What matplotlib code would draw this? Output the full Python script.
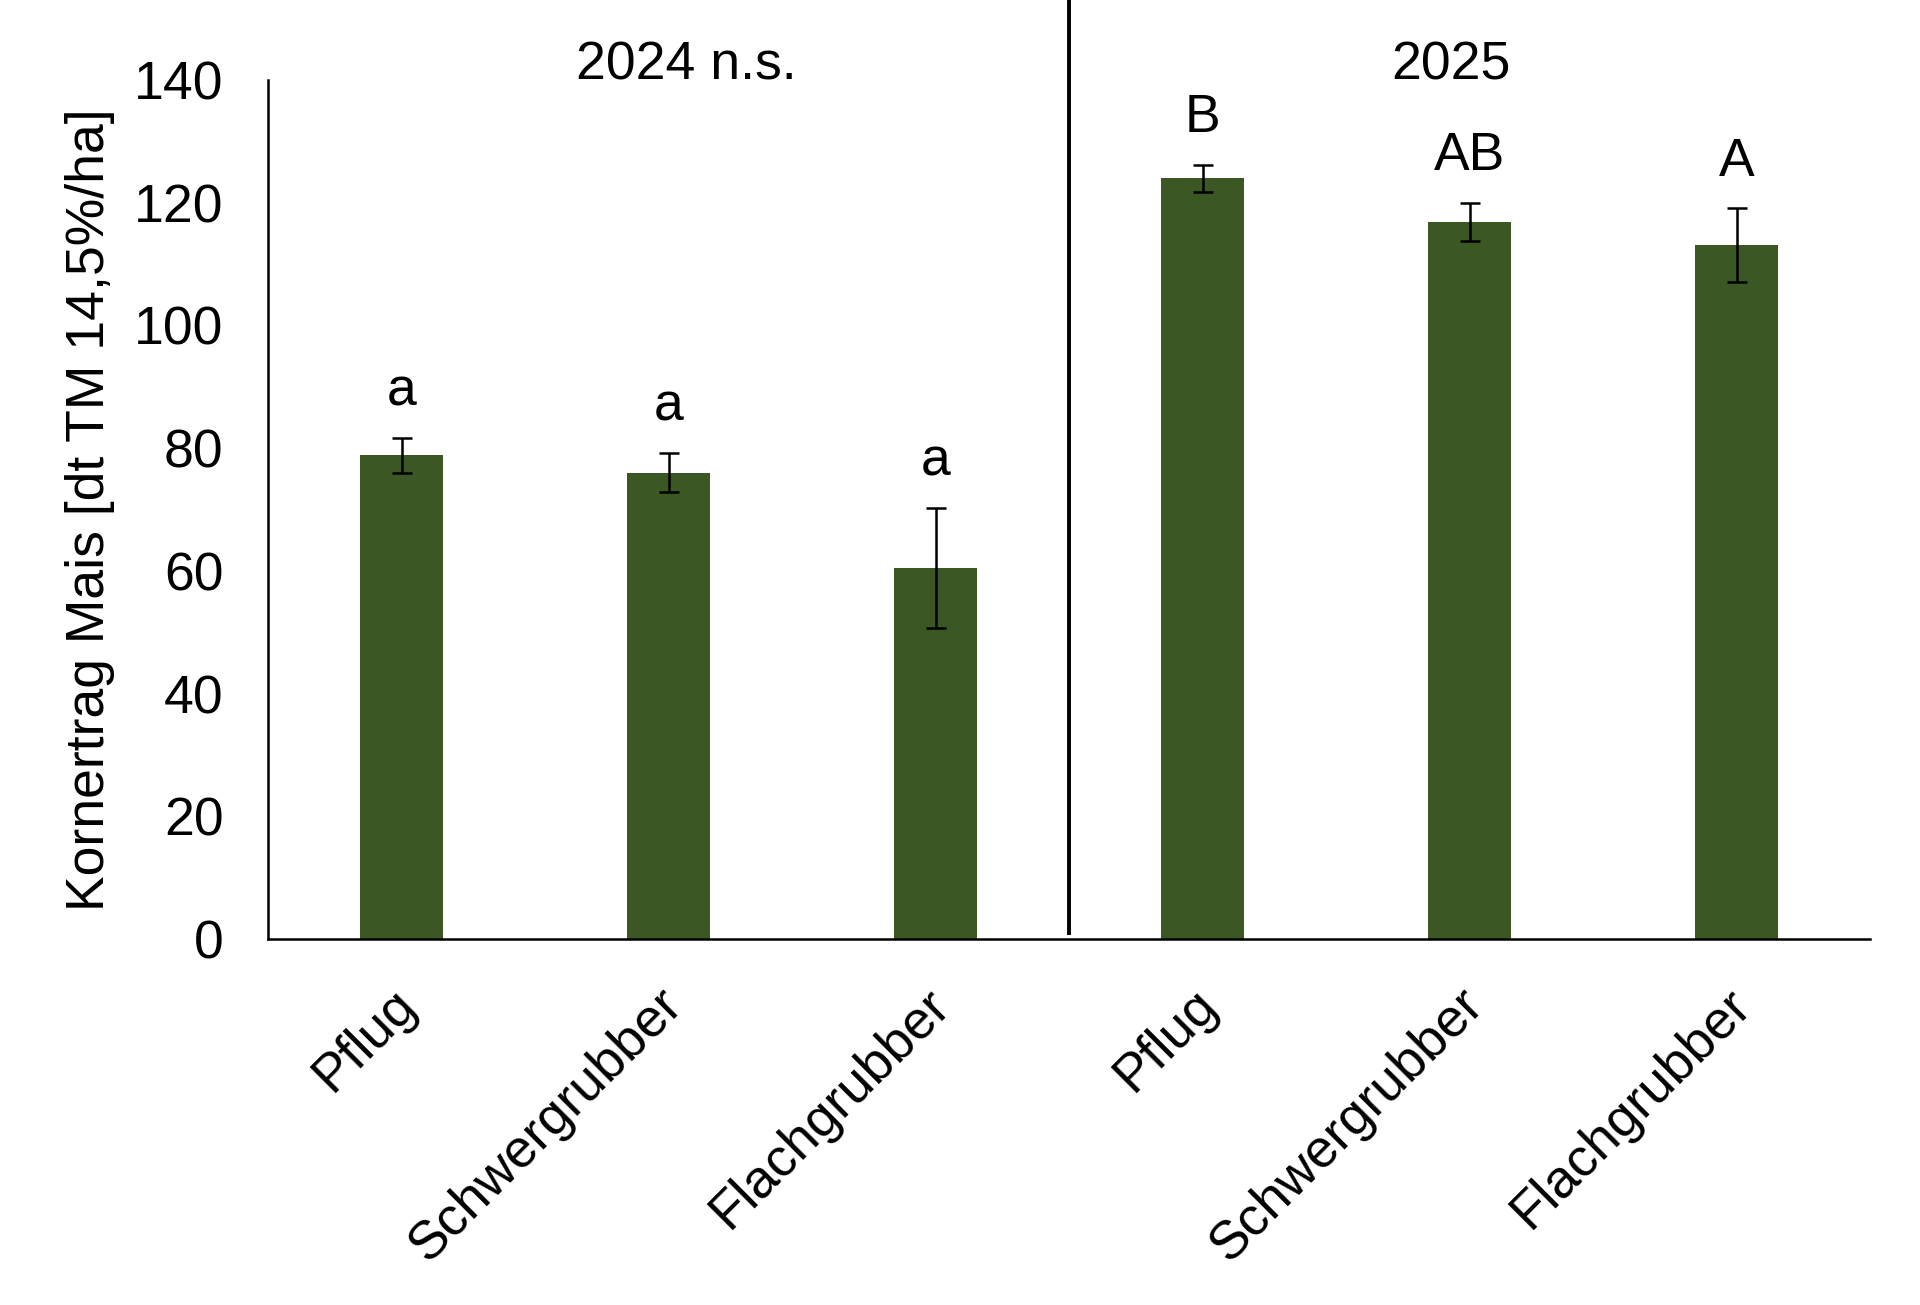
import numpy as np
import matplotlib.pyplot as plt
import matplotlib.transforms as mtransforms

plt.rcParams['font.family'] = ['Liberation Sans', 'DejaVu Sans']

categories = ['Pflug', 'Schwergrubber', 'Flachgrubber', 'Pflug', 'Schwergrubber', 'Flachgrubber']
ertrag = [78.8, 76.0, 60.4, 124.0, 116.9, 113.1]
fehler = [2.8, 3.2, 9.8, 2.2, 3.1, 6.0]
buchstaben = ['a', 'a', 'a', 'B', 'AB', 'A']
jahre = ['2024 n.s.', '2025']

fs = 38.5

fig = plt.figure(figsize=(19.2, 13.05), dpi=100)
ax = fig.add_axes([0.1396, 0.2805, 0.8344, 0.6582])

x = np.arange(len(categories)) + 0.5
ax.bar(x, ertrag, width=0.31, color='#3B5724', zorder=2)
ax.errorbar(x, ertrag, yerr=fehler, fmt='none', ecolor='black',
            elinewidth=1.8, capsize=7, capthick=1.8, zorder=3)

for xi, v, e, b in zip(x, ertrag, fehler, buchstaben):
    ax.text(xi, v + e + 7.6, b, ha='center', va='center', fontsize=fs)

# Trennlinie zwischen den Jahren
ax.plot([3, 3], [1, 153], color='black', lw=2.8, clip_on=False)
ax.text(1.565, 142.3, jahre[0], ha='center', va='center', fontsize=fs)
ax.text(4.43, 142.3, jahre[1], ha='center', va='center', fontsize=fs)

ax.set_xlim(0, 6)
ax.set_ylim(0, 140)
ax.set_yticks(np.arange(0, 141, 20))
ax.tick_params(axis='y', labelsize=fs, length=0, pad=32)
ax.set_xticks(x)
ax.set_xticklabels(categories, fontsize=fs, rotation=45, ha='right',
                   va='top', rotation_mode='anchor')
ax.tick_params(axis='x', length=0, pad=29)
offset = mtransforms.ScaledTranslation(-8 / 72, 0, fig.dpi_scale_trans)
for lab in ax.get_xticklabels():
    lab.set_transform(lab.get_transform() + offset)

ax.set_ylabel('Kornertrag Mais [dt TM 14,5%/ha]', fontsize=fs, labelpad=14)
ax.spines['top'].set_visible(False)
ax.spines['right'].set_visible(False)
ax.spines['left'].set_linewidth(1.8)
ax.spines['bottom'].set_linewidth(1.8)

fig.savefig('out.png', dpi=100)
